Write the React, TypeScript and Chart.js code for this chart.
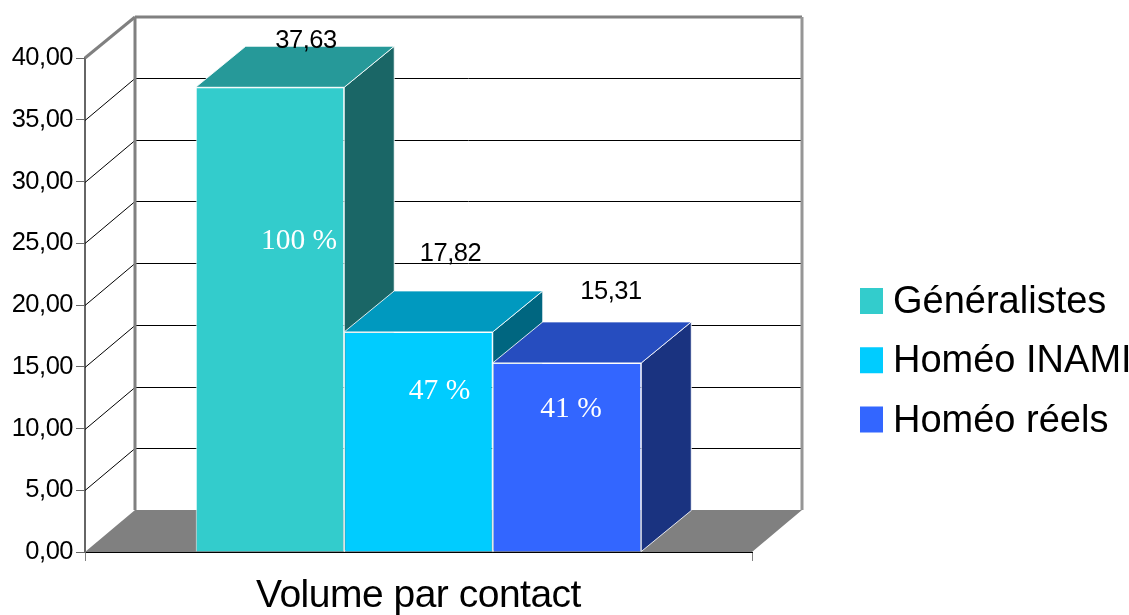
import React, { useEffect, useRef } from "react";
import { Chart, registerables } from "chart.js";

Chart.register(...registerables);

const categories = ["Volume par contact"];
const seriesNames = ["Généralistes", "Homéo INAMI", "Homéo réels"];
const seriesValues = [37.63, 17.82, 15.31];
const percentLabels = ["100 %", "47 %", "41 %"];
const frontColors = ["#33CCCC", "#00CCFF", "#3366FF"];
const topColors = ["#269999", "#0099BF", "#264DBF"];
const sideColors = ["#1A6666", "#006680", "#1A3380"];
const yTickStep = 5;
const yMax = 40;

// Depth of the 3D box, in pixels
const DEPTH_X = 50;
const DEPTH_Y = -41;
// The back wall sits a little higher than the box depth
const WALL_Y = -42;
const SANS = '"Liberation Sans", Arial, sans-serif';
const SERIF = '"Liberation Serif", "Times New Roman", serif';

// Label offsets from each bar's top-centre and mid-front point
const valueOffsets = [[36, -46.5], [32, -78], [44, -71]];
const percentOffsets = [[29, -78.5], [21, -50], [4, -48]];

const fr = (v: number) => v.toFixed(2).replace(".", ",");

type Pt = [number, number];

function poly(ctx: CanvasRenderingContext2D, pts: Pt[], fill?: string, stroke?: string) {
  ctx.beginPath();
  pts.forEach(([x, y], i) => (i ? ctx.lineTo(x, y) : ctx.moveTo(x, y)));
  ctx.closePath();
  if (fill) {
    ctx.fillStyle = fill;
    ctx.fill();
  }
  if (stroke) {
    ctx.strokeStyle = stroke;
    ctx.lineWidth = 1;
    ctx.stroke();
  }
}

function seg(ctx: CanvasRenderingContext2D, a: Pt, b: Pt, color: string, width: number) {
  ctx.beginPath();
  ctx.moveTo(a[0], a[1]);
  ctx.lineTo(b[0], b[1]);
  ctx.strokeStyle = color;
  ctx.lineWidth = width;
  ctx.stroke();
}

// Floor, back wall, grid and the top and side faces of the boxes
const depthPlugin = {
  id: "depthFaces",
  beforeDraw(chart: any) {
    // Tightens the axis labels slightly
    chart.ctx.letterSpacing = "-0.5px";
  },
  beforeDatasetsDraw(chart: any) {
    const { ctx, chartArea, scales } = chart;
    const { left, right } = chartArea;
    const y = scales.y;
    const zero = y.getPixelForValue(0);
    const top = y.getPixelForValue(yMax);
    ctx.save();

    poly(ctx, [
      [left, zero],
      [right, zero],
      [right + DEPTH_X, zero + WALL_Y],
      [left + DEPTH_X, zero + WALL_Y],
    ], "#808080");

    for (let v = yTickStep; v < yMax; v += yTickStep) {
      const py = Math.round(y.getPixelForValue(v)) + 0.5;
      seg(ctx, [left, py], [left + DEPTH_X, py + WALL_Y], "#000000", 1);
      seg(ctx, [left + DEPTH_X, py + WALL_Y], [right + DEPTH_X, py + WALL_Y], "#000000", 1);
    }

    seg(ctx, [left + DEPTH_X, top + DEPTH_Y], [left + DEPTH_X, zero + WALL_Y], "#808080", 3);
    seg(ctx, [left, top], [left + DEPTH_X, top + DEPTH_Y], "#808080", 3);
    seg(ctx, [left + DEPTH_X, top + DEPTH_Y], [right + DEPTH_X, top + DEPTH_Y], "#808080", 3);
    seg(ctx, [right + DEPTH_X, top + DEPTH_Y], [right + DEPTH_X, zero + WALL_Y], "#969696", 3);

    seriesValues.forEach((_, i) => {
      const bar = chart.getDatasetMeta(i).data[0];
      const half = bar.width / 2;
      const x0 = bar.x - half;
      const x1 = bar.x + half;
      const edge = "rgba(255,255,255,0.85)";
      poly(ctx, [
        [x1, bar.y],
        [x1 + DEPTH_X, bar.y + DEPTH_Y],
        [x1 + DEPTH_X, bar.base + DEPTH_Y],
        [x1, bar.base],
      ], sideColors[i], edge);
      poly(ctx, [
        [x0, bar.y],
        [x1, bar.y],
        [x1 + DEPTH_X, bar.y + DEPTH_Y],
        [x0 + DEPTH_X, bar.y + DEPTH_Y],
      ], topColors[i], edge);
    });
    ctx.restore();
  },
  afterDatasetsDraw(chart: any) {
    const { ctx } = chart;
    ctx.save();
    ctx.textAlign = "center";
    ctx.textBaseline = "middle";
    seriesValues.forEach((v, i) => {
      const bar = chart.getDatasetMeta(i).data[0];
      ctx.letterSpacing = "-0.5px";
      ctx.font = `25.5px ${SANS}`;
      ctx.fillStyle = "#000000";
      ctx.fillText(fr(v), bar.x + valueOffsets[i][0], bar.y + valueOffsets[i][1]);
      ctx.letterSpacing = "0px";
      ctx.font = `29.5px ${SERIF}`;
      ctx.fillStyle = "#FFFFFF";
      ctx.fillText(
        percentLabels[i],
        bar.x + percentOffsets[i][0],
        (bar.y + bar.base) / 2 + percentOffsets[i][1],
      );
    });
    ctx.restore();
  },
};

// Series key on the right of the plot
const keyPlugin = {
  id: "seriesKey",
  afterDraw(chart: any) {
    const { ctx } = chart;
    const boxX = 860;
    const firstRow = 301;
    const rowGap = 59.25;
    ctx.save();
    ctx.letterSpacing = "0px";
    ctx.font = `38px ${SANS}`;
    ctx.textAlign = "left";
    ctx.textBaseline = "alphabetic";
    seriesNames.forEach((name, i) => {
      const cy = firstRow + i * rowGap;
      ctx.fillStyle = frontColors[i];
      ctx.fillRect(boxX, cy - 13, 23, 26);
      ctx.fillStyle = "#000000";
      ctx.fillText(name, boxX + 33, cy + 12);
    });
    ctx.restore();
  },
};

export default function App() {
  const ref = useRef<HTMLCanvasElement>(null);

  useEffect(() => {
    const chart = new Chart(ref.current as HTMLCanvasElement, {
      type: "bar",
      data: {
        labels: categories,
        datasets: seriesNames.map((name, i) => ({
          label: name,
          data: [seriesValues[i]],
          backgroundColor: frontColors[i],
          borderColor: "rgba(255,255,255,0.85)",
          borderWidth: { left: 1, right: 1, top: 1, bottom: 0 },
          categoryPercentage: 0.668,
          barPercentage: 1,
        })),
      },
      options: {
        responsive: false,
        animation: false,
        layout: { padding: { left: 0, top: 58, right: 377, bottom: 0 } },
        plugins: {
          legend: { display: false },
          tooltip: { enabled: false },
        },
        scales: {
          x: {
            afterFit: (s: any) => {
              s.height = 63;
            },
            grid: {
              drawOnChartArea: false,
              drawTicks: true,
              tickLength: 9,
              color: "#808080",
              offset: true,
            },
            border: { color: "#000000", width: 1 },
            ticks: {
              color: "#000000",
              padding: 12,
              maxRotation: 0,
              font: { family: "Liberation Sans", size: 39 },
            },
          },
          y: {
            min: 0,
            max: yMax,
            afterFit: (s: any) => {
              s.width = 85;
            },
            grid: {
              drawOnChartArea: false,
              drawTicks: true,
              tickLength: 9,
              color: "#666666",
            },
            border: { color: "#666666", width: 2 },
            ticks: {
              stepSize: yTickStep,
              color: "#000000",
              padding: 3,
              font: { family: "Liberation Sans", size: 25.5 },
              callback: (v: any) => fr(Number(v)),
            },
          },
        },
      },
      plugins: [depthPlugin, keyPlugin],
    } as any);
    return () => chart.destroy();
  }, []);

  return (
    <div style={{ position: "absolute", left: 0, top: 0, width: 1129, height: 615, background: "#FFFFFF" }}>
      <canvas ref={ref} width={1129} height={615} style={{ display: "block" }} />
    </div>
  );
}
